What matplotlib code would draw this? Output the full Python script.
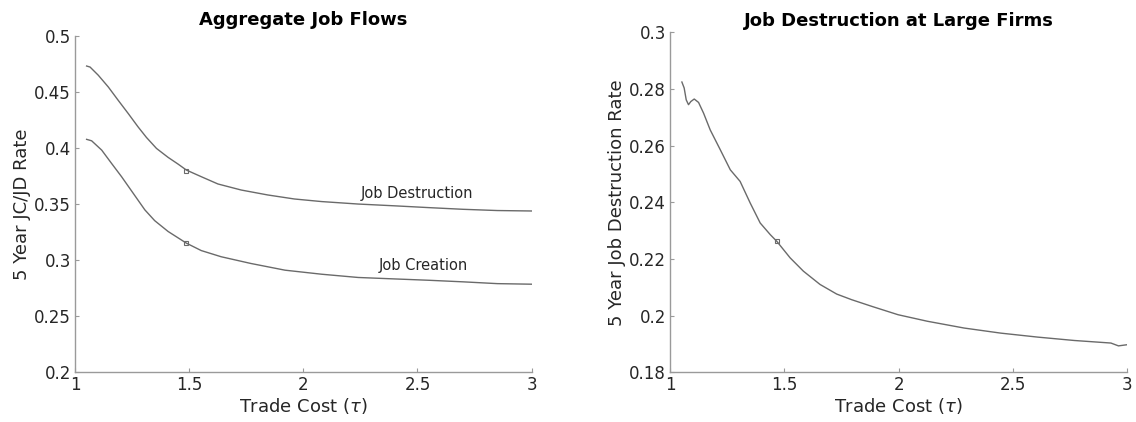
import matplotlib
matplotlib.use("Agg")
import matplotlib.pyplot as plt

# Aggregate job flows (left panel)
tau_agg = [1.051, 1.066, 1.102, 1.146, 1.189, 1.233, 1.276, 1.313, 1.357,
           1.408, 1.451, 1.488, 1.553, 1.626, 1.728, 1.844, 1.961, 2.08,
           2.24, 2.40, 2.55, 2.70, 2.85, 3.00]
jd_rate = [0.4731, 0.4722, 0.4649, 0.4544, 0.4426, 0.4308, 0.4189, 0.4094,
           0.3996, 0.3916, 0.3857, 0.3803, 0.3744, 0.3679, 0.3625, 0.3581,
           0.3545, 0.3522, 0.3500, 0.3484, 0.3468, 0.3453, 0.3442, 0.3438]
tau_jc = [1.051, 1.073, 1.117, 1.160, 1.204, 1.255, 1.306, 1.349, 1.408,
          1.488, 1.553, 1.64, 1.77, 1.92, 2.08, 2.24, 2.40, 2.55, 2.70, 2.85,
          3.00]
jc_rate = [0.4077, 0.4064, 0.3981, 0.3863, 0.3744, 0.3596, 0.3448, 0.3352,
           0.3255, 0.3151, 0.3085, 0.3030, 0.2970, 0.2910, 0.2874, 0.2845,
           0.2832, 0.2820, 0.2806, 0.2790, 0.2785]
tau_mark = 1.488
jd_mark = 0.3797
jc_mark = 0.3151

# Job destruction at large firms (right panel)
tau_large = [1.051, 1.061, 1.070, 1.080, 1.090, 1.105, 1.124, 1.146, 1.175,
             1.219, 1.263, 1.306, 1.350, 1.394, 1.438, 1.467, 1.525, 1.583,
             1.656, 1.729, 1.795, 1.885, 1.998, 2.126, 2.287, 2.448, 2.609,
             2.77, 2.93, 2.963, 3.0]
jd_large = [0.2825, 0.2804, 0.2762, 0.2745, 0.2756, 0.2765, 0.2753, 0.2715,
            0.2656, 0.2586, 0.2515, 0.2474, 0.2398, 0.2327, 0.2286, 0.2262,
            0.2204, 0.2157, 0.2110, 0.2076, 0.2056, 0.2032, 0.2003, 0.1980,
            0.1956, 0.1938, 0.1924, 0.1912, 0.1903, 0.1893, 0.1897]
tau_large_mark = 1.467
jd_large_mark = 0.2262

line_col = "#6a6a6a"
axis_col = "#9a9a9a"
text_col = "#262626"

plt.rcParams["font.family"] = "DejaVu Sans"

fig = plt.figure(figsize=(11.36, 4.22), dpi=100)
ax1 = fig.add_axes([0.066, 0.118, 0.402, 0.797])
ax2 = fig.add_axes([0.590, 0.118, 0.402, 0.805])


def style(ax):
    for s in ["top", "right"]:
        ax.spines[s].set_visible(False)
    for s in ["left", "bottom"]:
        ax.spines[s].set_color(axis_col)
        ax.spines[s].set_linewidth(1.0)
    ax.tick_params(direction="in", length=3, width=0.8, color=axis_col,
                   labelsize=12, labelcolor=text_col, pad=3)
    ax.set_xlim(1, 3)
    ax.set_xticks([1, 1.5, 2, 2.5, 3])
    ax.set_xticklabels(["1", "1.5", "2", "2.5", "3"])
    ax.set_xlabel(r"Trade Cost ($\tau$)", fontsize=13, color=text_col, labelpad=1)


ax1.plot(tau_agg, jd_rate, color=line_col, lw=1.0)
ax1.plot(tau_jc, jc_rate, color=line_col, lw=1.0)
ax1.plot([tau_mark, tau_mark], [jd_mark, jc_mark], ls="none", marker="s",
         ms=3.5, mfc="none", mec=line_col, mew=0.8)
ax1.text(2.25, 0.3598, "Job Destruction", fontsize=10.5, color=text_col, va="center")
ax1.text(2.33, 0.2948, "Job Creation", fontsize=10.5, color=text_col, va="center")
style(ax1)
ax1.set_ylim(0.2, 0.5)
ax1.set_yticks([0.2, 0.25, 0.3, 0.35, 0.4, 0.45, 0.5])
ax1.set_yticklabels(["0.2", "0.25", "0.3", "0.35", "0.4", "0.45", "0.5"])
ax1.set_ylabel("5 Year JC/JD Rate", fontsize=13, color=text_col, labelpad=2)
ax1.set_title("Aggregate Job Flows", fontsize=13, fontweight="bold", pad=8)

ax2.plot(tau_large, jd_large, color=line_col, lw=1.0)
ax2.plot([tau_large_mark], [jd_large_mark], ls="none", marker="s",
         ms=3.5, mfc="none", mec=line_col, mew=0.8)
style(ax2)
ax2.set_ylim(0.18, 0.3)
ax2.set_yticks([0.18, 0.2, 0.22, 0.24, 0.26, 0.28, 0.3])
ax2.set_yticklabels(["0.18", "0.2", "0.22", "0.24", "0.26", "0.28", "0.3"])
ax2.set_ylabel("5 Year Job Destruction Rate", fontsize=13, color=text_col, labelpad=2)
ax2.set_title("Job Destruction at Large Firms", fontsize=13, fontweight="bold", pad=5)

fig.savefig("out.png", dpi=100)
plt.close(fig)
